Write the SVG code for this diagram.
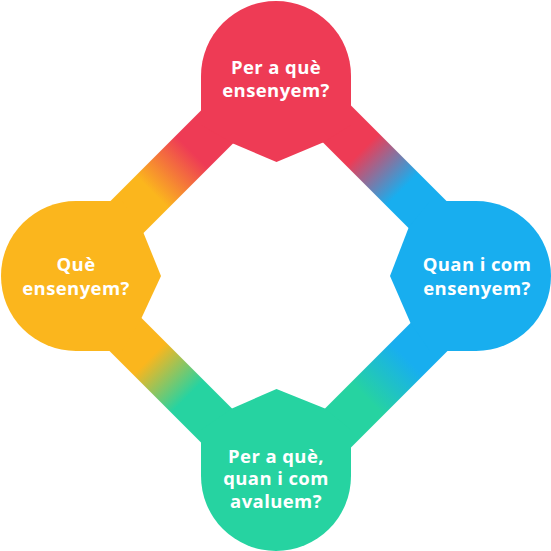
<svg xmlns="http://www.w3.org/2000/svg" width="551" height="551" viewBox="0 0 551 551">
  <style>
    .lbl { font-family: "Open Sans", "Noto Sans", "Liberation Sans", sans-serif; font-weight: bold; font-size: 18.5px; letter-spacing: 0.4px; fill: #ffffff; text-anchor: middle; }
  </style>
  <defs>
    <linearGradient id="gTL" gradientUnits="userSpaceOnUse" x1="276" y1="76" x2="76" y2="276">
      <stop offset="0.4" stop-color="#EE3B55"/>
      <stop offset="0.6" stop-color="#FBB61D"/>
    </linearGradient>
    <linearGradient id="gTR" gradientUnits="userSpaceOnUse" x1="276" y1="76" x2="476" y2="276">
      <stop offset="0.4" stop-color="#EE3B55"/>
      <stop offset="0.6" stop-color="#18AEEF"/>
    </linearGradient>
    <linearGradient id="gBL" gradientUnits="userSpaceOnUse" x1="76" y1="276" x2="276" y2="476">
      <stop offset="0.39" stop-color="#FBB61D"/>
      <stop offset="0.58" stop-color="#26D3A1"/>
    </linearGradient>
    <linearGradient id="gBR" gradientUnits="userSpaceOnUse" x1="276" y1="476" x2="476" y2="276">
      <stop offset="0.42" stop-color="#26D3A1"/>
      <stop offset="0.62" stop-color="#18AEEF"/>
    </linearGradient>
  </defs>
  <g id="connectors">
    <polygon points="278.5,33 35,276.5 100,276.5 278.5,98" fill="url(#gTL)"/>
    <polygon points="278.5,33 522,276.5 457,276.5 278.5,98" fill="url(#gTR)"/>
    <polygon points="35,276.5 278.5,520 278.5,455 100,276.5" fill="url(#gBL)"/>
    <polygon points="522,276.5 278.5,520 278.5,455 457,276.5" fill="url(#gBR)"/>
  </g>
  <g id="node-top">
    <path d="M201,76 A75,75 0 0 1 351,76 L351,125 L323,142.5 L276.5,162 L233,143.5 L201,125 Z" fill="#EE3B55"/>
    <text class="lbl" x="276" y="73.5">Per a què</text>
    <text class="lbl" x="276" y="96.5">ensenyem?</text>
  </g>
  <g id="node-right">
    <path d="M476,201 A75,75 0 0 1 476,351 L430,351 L410.5,323 L390,276 L408.5,228 L430,201 Z" fill="#18AEEF"/>
    <text class="lbl" x="477" y="271">Quan i com</text>
    <text class="lbl" x="477" y="294.5">ensenyem?</text>
  </g>
  <g id="node-bottom">
    <path d="M351,476 A75,75 0 0 1 201,476 L201,430 L232,408.5 L276.5,389 L325,408.5 L351,430 Z" fill="#26D3A1"/>
    <text class="lbl" x="276" y="462.5">Per a què,</text>
    <text class="lbl" x="276" y="485">quan i com</text>
    <text class="lbl" x="276" y="507.5">avaluem?</text>
  </g>
  <g id="node-left">
    <path d="M76,351 A75,75 0 0 1 76,201 L122,201 L143.5,233 L161,276 L141.5,318 L122,351 Z" fill="#FBB61D"/>
    <text class="lbl" x="76" y="271">Què</text>
    <text class="lbl" x="76" y="294.5">ensenyem?</text>
  </g>
</svg>
